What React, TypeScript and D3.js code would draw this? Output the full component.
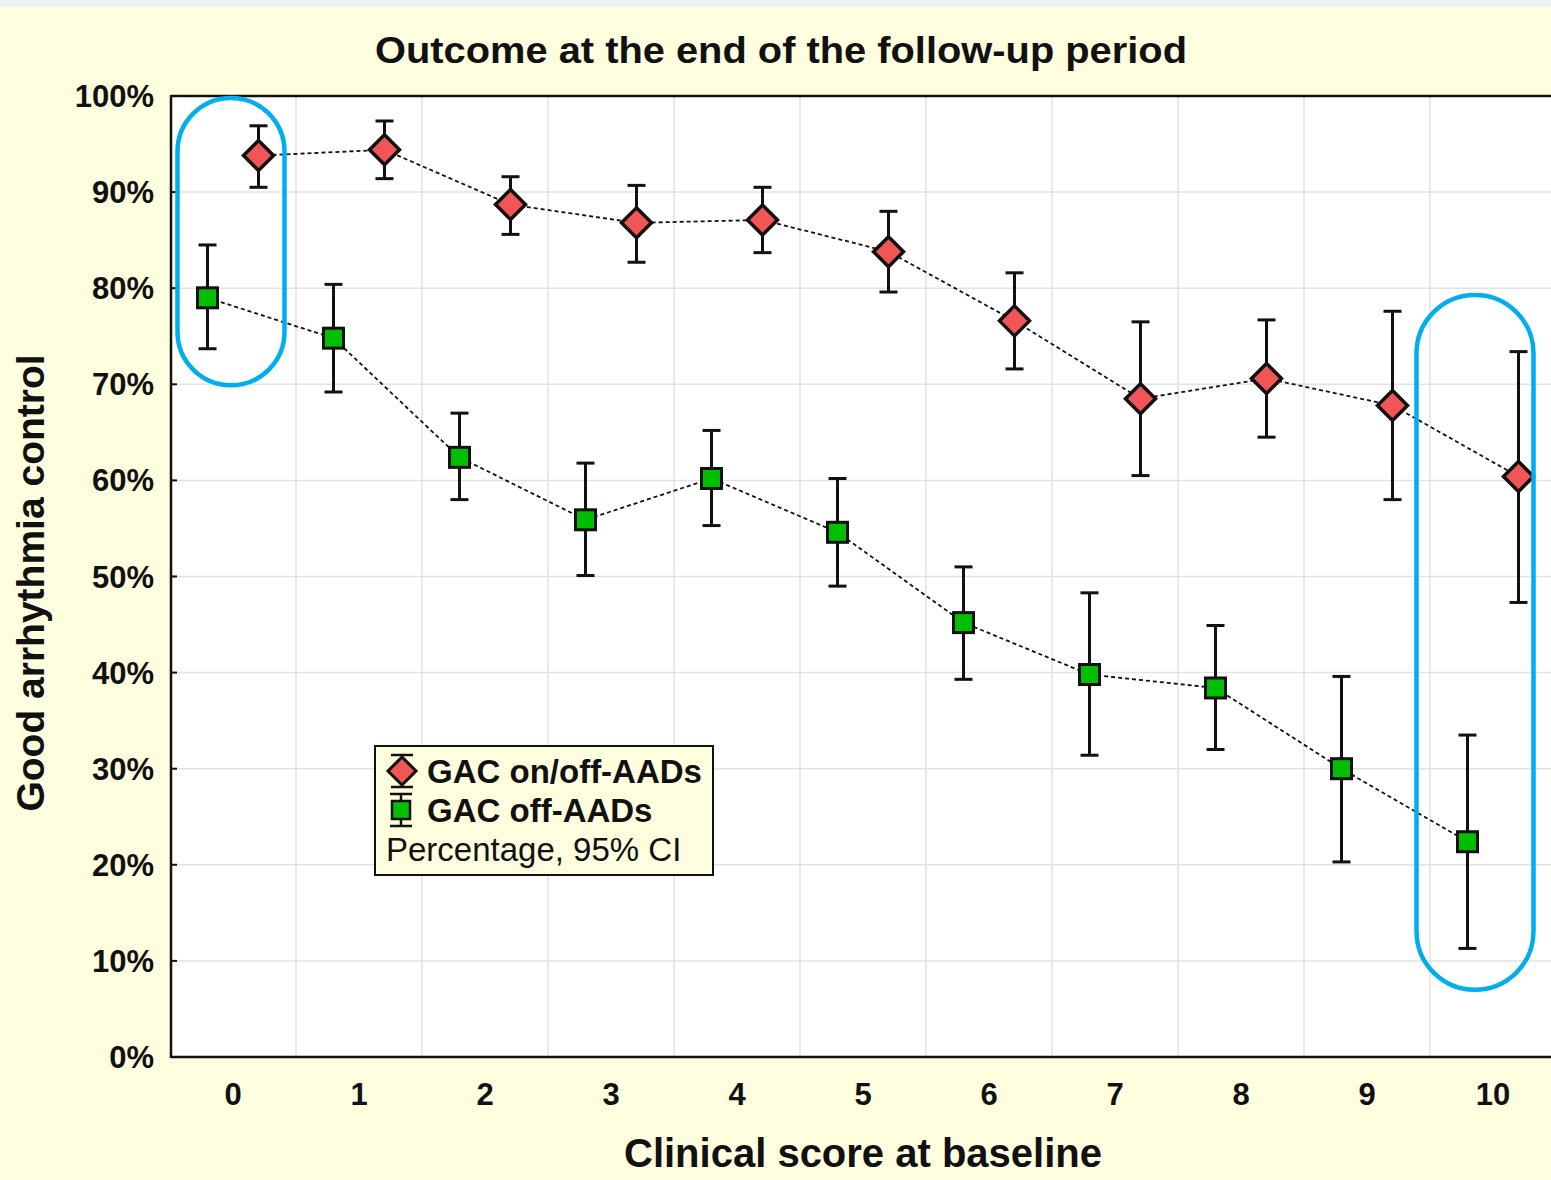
import { useEffect, useRef } from "react";
import * as d3 from "d3";

// clinical score categories
const scores = ["0", "1", "2", "3", "4", "5", "6", "7", "8", "9", "10"];

// GAC on/off-AADs (diamonds), percentage with 95% CI
const onOffPct = [93.8, 94.4, 88.7, 86.8, 87.1, 83.8, 76.6, 68.5, 70.6, 67.8, 60.4];
const onOffLow = [90.5, 91.4, 85.6, 82.7, 83.7, 79.6, 71.6, 60.5, 64.5, 58.0, 47.3];
const onOffHigh = [96.9, 97.4, 91.6, 90.7, 90.5, 88.0, 81.6, 76.5, 76.7, 77.6, 73.4];

// GAC off-AADs (squares)
const offPct = [79.0, 74.8, 62.4, 55.9, 60.2, 54.6, 45.2, 39.8, 38.4, 30.0, 22.4];
const offLow = [73.7, 69.2, 58.0, 50.1, 55.3, 49.0, 39.3, 31.4, 32.0, 20.3, 11.3];
const offHigh = [84.5, 80.4, 67.0, 61.8, 65.2, 60.2, 51.0, 48.3, 44.9, 39.6, 33.5];

const yTicks = [0, 10, 20, 30, 40, 50, 60, 70, 80, 90, 100];

// highlighted groups (score, top %, bottom %)
const highlights = [
  { score: "0", top: 99.8, bottom: 69.9, shift: -2, w: 107 },
  { score: "10", top: 79.3, bottom: 7.0, shift: -18, w: 117 },
];

const W = 1551, H = 1180;
const bg = "#FFFEDF";

export default function App() {
  const ref = useRef<SVGSVGElement>(null);

  useEffect(() => {
    if (!ref.current) return;
    const svg = d3.select(ref.current);
    svg.selectAll("*").remove();

    const x = d3.scaleBand().domain(scores).range([170, 1556]);
    const y = d3.scaleLinear().domain([0, 100]).range([1057, 96]);
    const cx = (s: string) => (x(s) as number) + x.bandwidth() / 2;
    const off = 25.5;

    svg.append("rect").attr("width", W).attr("height", H).attr("fill", bg);
    svg.append("rect").attr("width", W).attr("height", 7).attr("fill", "#EEF1F8");

    // plot area
    svg.append("rect")
      .attr("x", 170).attr("y", y(100))
      .attr("width", W - 170).attr("height", y(0) - y(100))
      .attr("fill", "#fff");

    // grid
    const g = svg.append("g");
    g.selectAll(".hg").data(yTicks.slice(1, -1)).join("line")
      .attr("x1", 171).attr("x2", W)
      .attr("y1", d => y(d)).attr("y2", d => y(d))
      .attr("stroke", "#E2E2E2").attr("stroke-width", 1.5);
    g.selectAll(".vg").data(scores.slice(1)).join("line")
      .attr("x1", d => x(d) as number).attr("x2", d => x(d) as number)
      .attr("y1", y(100)).attr("y2", y(0))
      .attr("stroke", "#E2E2E2").attr("stroke-width", 1.5);

    // axes frame
    svg.append("line").attr("x1", 171).attr("x2", W).attr("y1", y(100)).attr("y2", y(100))
      .attr("stroke", "#111").attr("stroke-width", 2.5);
    svg.append("line").attr("x1", 171).attr("x2", W).attr("y1", y(0)).attr("y2", y(0))
      .attr("stroke", "#111").attr("stroke-width", 2.5);
    svg.append("line").attr("x1", 171).attr("x2", 171).attr("y1", y(100) - 1).attr("y2", y(0) + 1)
      .attr("stroke", "#111").attr("stroke-width", 2.5);
    svg.selectAll(".yt").data(yTicks).join("line")
      .attr("x1", 171).attr("x2", 177)
      .attr("y1", d => y(d)).attr("y2", d => y(d))
      .attr("stroke", "#111").attr("stroke-width", 2);

    const font = "'Liberation Sans', Arial, sans-serif";

    // y tick labels
    svg.selectAll(".yl").data(yTicks).join("text")
      .attr("x", 154).attr("y", d => y(d) + 11)
      .attr("text-anchor", "end")
      .attr("font-family", font).attr("font-weight", "bold").attr("font-size", 31)
      .attr("fill", "#111")
      .text(d => `${d}%`);

    // x tick labels
    svg.selectAll(".xl").data(scores).join("text")
      .attr("x", d => cx(d)).attr("y", 1105)
      .attr("text-anchor", "middle")
      .attr("font-family", font).attr("font-weight", "bold").attr("font-size", 31)
      .attr("fill", "#111")
      .text(d => d);

    // titles
    svg.append("text")
      .attr("x", 781).attr("y", 63).attr("text-anchor", "middle")
      .attr("font-family", "'Liberation Sans Narrow', 'Liberation Sans', Arial, sans-serif")
      .attr("font-weight", "bold").attr("font-size", 37).attr("fill", "#111")
      .attr("textLength", 812).attr("lengthAdjust", "spacingAndGlyphs")
      .text("Outcome at the end of the follow-up period");
    svg.append("text")
      .attr("x", 863).attr("y", 1167).attr("text-anchor", "middle")
      .attr("font-family", font).attr("font-weight", "bold").attr("font-size", 40).attr("fill", "#111")
      .text("Clinical score at baseline");
    svg.append("text")
      .attr("transform", `translate(44,583) rotate(-90)`).attr("text-anchor", "middle")
      .attr("font-family", font).attr("font-weight", "bold").attr("font-size", 39).attr("fill", "#111")
      .text("Good arrhythmia control");

    const series = [
      { pct: onOffPct, low: onOffLow, high: onOffHigh, dx: off, shape: "diamond" },
      { pct: offPct, low: offLow, high: offHigh, dx: -off, shape: "square" },
    ];

    series.forEach(s => {
      const px = (i: number) => cx(scores[i]) + s.dx;
      svg.append("path")
        .attr("d", d3.line<number>().x((_, i) => px(i)).y(d => y(d))(s.pct))
        .attr("fill", "none").attr("stroke", "#111").attr("stroke-width", 1.8)
        .attr("stroke-dasharray", "4,3");

      const eb = svg.append("g").attr("stroke", "#111").attr("stroke-width", 3);
      s.pct.forEach((_, i) => {
        eb.append("line").attr("x1", px(i)).attr("x2", px(i)).attr("y1", y(s.high[i])).attr("y2", y(s.low[i]));
        eb.append("line").attr("x1", px(i) - 9).attr("x2", px(i) + 9).attr("y1", y(s.high[i])).attr("y2", y(s.high[i]));
        eb.append("line").attr("x1", px(i) - 9).attr("x2", px(i) + 9).attr("y1", y(s.low[i])).attr("y2", y(s.low[i]));
      });

      s.pct.forEach((v, i) => {
        if (s.shape === "diamond") {
          const r = 15;
          svg.append("path")
            .attr("d", `M${px(i)},${y(v) - r}L${px(i) + r},${y(v)}L${px(i)},${y(v) + r}L${px(i) - r},${y(v)}Z`)
            .attr("fill", "#F25555").attr("stroke", "#111").attr("stroke-width", 3.5)
            .attr("stroke-linejoin", "miter");
        } else {
          const r = 10;
          svg.append("rect")
            .attr("x", px(i) - r).attr("y", y(v) - r).attr("width", 2 * r).attr("height", 2 * r)
            .attr("fill", "#00BE00").attr("stroke", "#111").attr("stroke-width", 3);
        }
      });
    });

    // highlight capsules
    highlights.forEach(h => {
      const c = cx(h.score) + h.shift;
      svg.append("rect")
        .attr("x", c - h.w / 2).attr("y", y(h.top))
        .attr("width", h.w).attr("height", y(h.bottom) - y(h.top))
        .attr("rx", h.w / 2).attr("ry", h.w / 2)
        .attr("fill", "none").attr("stroke", "#00AEEF").attr("stroke-width", 4.5);
    });

    // legend
    const lg = svg.append("g").attr("transform", "translate(375,746)");
    lg.append("rect").attr("width", 338).attr("height", 129)
      .attr("fill", bg).attr("stroke", "#111").attr("stroke-width", 2);
    const lx = 27;
    // diamond entry
    lg.append("g").attr("stroke", "#111").attr("stroke-width", 2.5).call(gg => {
      gg.append("line").attr("x1", lx).attr("x2", lx).attr("y1", 9).attr("y2", 41);
      gg.append("line").attr("x1", lx - 11).attr("x2", lx + 11).attr("y1", 9).attr("y2", 9);
      gg.append("line").attr("x1", lx - 11).attr("x2", lx + 11).attr("y1", 41).attr("y2", 41);
    });
    lg.append("path")
      .attr("d", `M${lx},${25 - 14}L${lx + 14},25L${lx},${25 + 14}L${lx - 14},25Z`)
      .attr("fill", "#F25555").attr("stroke", "#111").attr("stroke-width", 3);
    // square entry
    lg.append("g").attr("stroke", "#111").attr("stroke-width", 2.5).call(gg => {
      gg.append("line").attr("x1", lx - 1).attr("x2", lx - 1).attr("y1", 48).attr("y2", 80);
      gg.append("line").attr("x1", lx - 12).attr("x2", lx + 10).attr("y1", 48).attr("y2", 48);
      gg.append("line").attr("x1", lx - 12).attr("x2", lx + 10).attr("y1", 80).attr("y2", 80);
    });
    lg.append("rect").attr("x", lx - 10).attr("y", 55).attr("width", 18).attr("height", 18)
      .attr("fill", "#00BE00").attr("stroke", "#111").attr("stroke-width", 2.5);

    lg.append("text").attr("x", 52).attr("y", 37)
      .attr("font-family", font).attr("font-weight", "bold").attr("font-size", 33).attr("fill", "#111")
      .text("GAC on/off-AADs");
    lg.append("text").attr("x", 52).attr("y", 76)
      .attr("font-family", font).attr("font-weight", "bold").attr("font-size", 33).attr("fill", "#111")
      .text("GAC off-AADs");
    lg.append("text").attr("x", 11).attr("y", 115)
      .attr("font-family", font).attr("font-size", 33).attr("fill", "#111")
      .text("Percentage, 95% CI");
  }, []);

  return (
    <svg ref={ref} width={W} height={H}
      style={{ position: "absolute", left: 0, top: 0, display: "block" }} />
  );
}
